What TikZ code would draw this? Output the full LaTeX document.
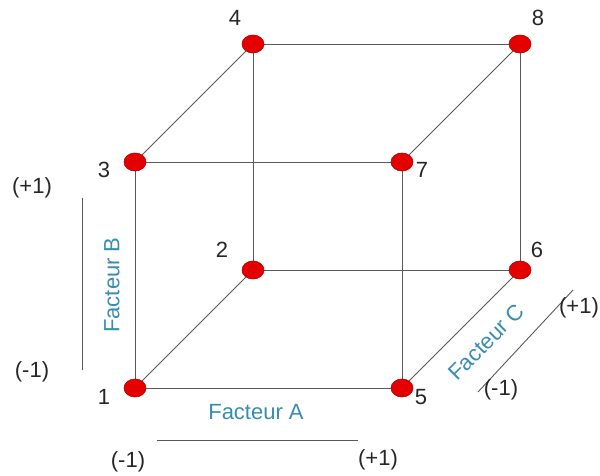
\documentclass[tikz,border=0pt]{standalone}
\usepackage{fontspec}
\setmainfont{Liberation Sans}
\usetikzlibrary{shapes.geometric}
\definecolor{facblue}{RGB}{55,140,178}
\begin{document}
\begin{tikzpicture}[x=1pt,y=-1pt,
  pt/.style={ellipse,draw=red!70!black,fill=red!90!black,line width=0.6pt,minimum width=22pt,minimum height=18pt,inner sep=0pt},
  edge/.style={draw=black!65,line width=0.9pt},
  lab/.style={font=\fontsize{22}{26}\selectfont,text=black!85,inner sep=0pt},
  fac/.style={font=\fontsize{22}{26}\selectfont,text=facblue,inner sep=0pt},
  axis/.style={draw=black!65,line width=0.9pt}]
\useasboundingbox (0,0) rectangle (600,475);
\coordinate (p1) at (135,388);
\coordinate (p2) at (253,270);
\coordinate (p3) at (135,162);
\coordinate (p4) at (253,44);
\coordinate (p5) at (402,388);
\coordinate (p6) at (520,270);
\coordinate (p7) at (402,162);
\coordinate (p8) at (520,44);
\draw[edge] (p1) -- (p5) -- (p7) -- (p3) -- cycle;
\draw[edge] (p2) -- (p6) -- (p8) -- (p4) -- cycle;
\draw[edge] (p1) -- (p2) (p3) -- (p4) (p5) -- (p6) (p7) -- (p8);
\foreach \i in {1,...,8} \node[pt] (n\i) at (p\i) {};
\node[lab] (l1) at (104,397) {1};
\node[lab] (l2) at (222,250) {2};
\node[lab] (l3) at (104,170) {3};
\node[lab] (l4) at (235,18) {4};
\node[lab] (l5) at (421,397) {5};
\node[lab] (l6) at (537,250) {6};
\node[lab] (l7) at (422,170) {7};
\node[lab] (l8) at (538,18) {8};
% Facteur A
\coordinate (a1) at (157,440);
\coordinate (a2) at (358,440);
\draw[axis] (a1) -- (a2);
\node[lab] (am) at (128,462) {(-1)};
\node[lab] (ap) at (378,460) {(+1)};
\node[fac] (fa) at (256,412) {Facteur A};
% Facteur B
\coordinate (b1) at (82,198);
\coordinate (b2) at (82,370);
\draw[axis] (b1) -- (b2);
\node[lab] (bp) at (32,188) {(+1)};
\node[lab] (bm) at (32,372) {(-1)};
\node[fac,rotate=90] (fb) at (112,285) {Facteur B};
% Facteur C
\coordinate (c1) at (478,392);
\coordinate (c2) at (573,290);
\draw[axis] (c1) -- (c2);
\node[lab] (cp) at (579,308) {(+1)};
\node[lab] (cm) at (501,390) {(-1)};
\node[fac,rotate=45] (fc) at (486,342) {Facteur C};
\end{tikzpicture}
\end{document}
